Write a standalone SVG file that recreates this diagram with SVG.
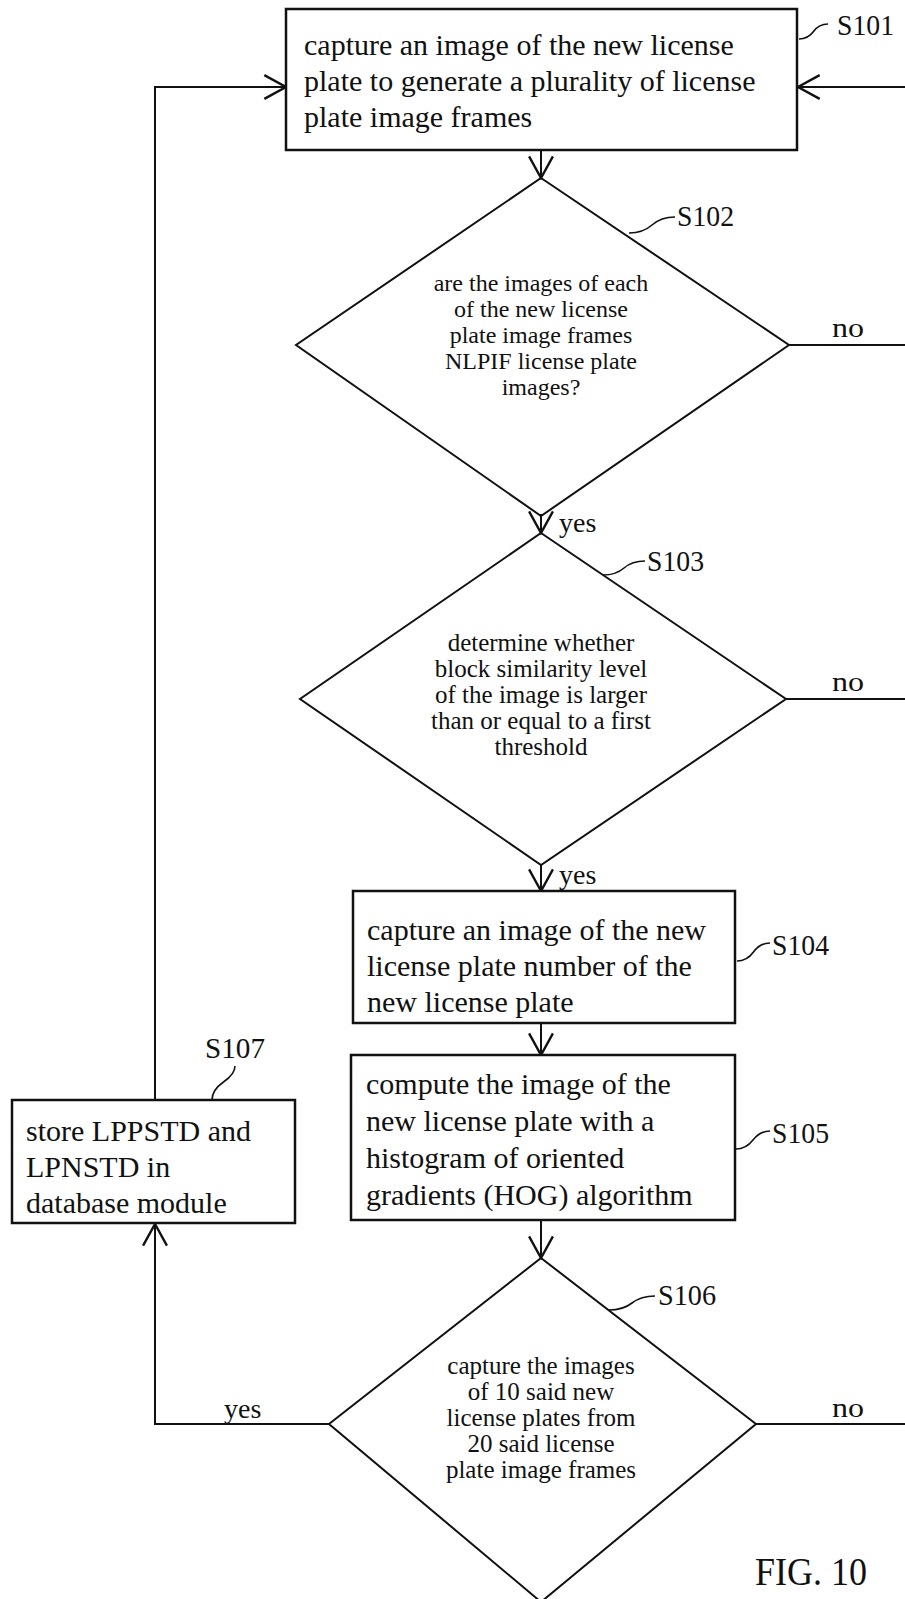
<svg xmlns="http://www.w3.org/2000/svg" width="905" height="1599" viewBox="0 0 905 1599">
<style>
.box{fill:#fff;stroke:#111;stroke-width:2.5}
.dia{fill:none;stroke:#111;stroke-width:2}
.ln{fill:none;stroke:#111;stroke-width:2}
.sq{fill:none;stroke:#111;stroke-width:1.6}
.t{font-family:"Liberation Serif","Times New Roman",serif;font-size:30px;fill:#111}
.d{font-family:"Liberation Serif","Times New Roman",serif;font-size:24px;fill:#111;text-anchor:middle}
.lb{font-family:"Liberation Serif","Times New Roman",serif;font-size:29px;fill:#111}
.yn{font-family:"Liberation Serif","Times New Roman",serif;font-size:28px;fill:#111}
</style>
<defs>
<marker id="ah" markerUnits="userSpaceOnUse" markerWidth="26" markerHeight="26" viewBox="0 0 22 24" refX="21" refY="12" orient="auto">
<path d="M1,1 L21,12 L1,23" fill="none" stroke="#111" stroke-width="2.2"/>
</marker>
</defs>
<rect width="905" height="1599" fill="#fff"/>

<g id="connectors">
<path class="ln" d="M541,150 L541,178" marker-end="url(#ah)"/>
<path class="ln" d="M541,514 L541,533" marker-end="url(#ah)"/>
<path class="ln" d="M541,865 L541,891" marker-end="url(#ah)"/>
<path class="ln" d="M541,1023 L541,1055" marker-end="url(#ah)"/>
<path class="ln" d="M541,1220 L541,1258" marker-end="url(#ah)"/>
<path class="ln" d="M789,345 L905,345"/>
<path class="ln" d="M786,699 L905,699"/>
<path class="ln" d="M756,1424 L905,1424"/>
<path class="ln" d="M329,1424 L155,1424 L155,1224" marker-end="url(#ah)"/>
<path class="ln" d="M155,1100 L155,87 L286,87" marker-end="url(#ah)"/>
<path class="ln" d="M905,87 L798,87" marker-end="url(#ah)"/>
<text class="yn" x="559" y="532">yes</text>
<text class="yn" x="559" y="884">yes</text>
<text class="yn" x="224" y="1418">yes</text>
<text class="yn" x="832" y="337" textLength="32" lengthAdjust="spacingAndGlyphs">no</text>
<text class="yn" x="832" y="691" textLength="32" lengthAdjust="spacingAndGlyphs">no</text>
<text class="yn" x="832" y="1417" textLength="32" lengthAdjust="spacingAndGlyphs">no</text>
</g>

<g id="S101">
<rect class="box" x="286" y="9" width="511" height="141"/>
<text class="t" x="304" y="55">capture an image of the new license</text>
<text class="t" x="304" y="91">plate to generate a plurality of license</text>
<text class="t" x="304" y="127">plate image frames</text>
<path class="sq" d="M799,39 Q808,39 813.5,31.5 T828,24"/>
<text class="lb" x="837" y="35" textLength="57" lengthAdjust="spacingAndGlyphs">S101</text>
</g>

<g id="S102">
<path class="dia" d="M541,178 L789,345 L541,516 L296,345 Z"/>
<text class="d" x="541" y="291">are the images of each</text>
<text class="d" x="541" y="317">of the new license</text>
<text class="d" x="541" y="343">plate image frames</text>
<text class="d" x="541" y="369">NLPIF license plate</text>
<text class="d" x="541" y="395">images?</text>
<path class="sq" d="M629,233 Q643,233 652,225 T675,217"/>
<text class="lb" x="677" y="226" textLength="57" lengthAdjust="spacingAndGlyphs">S102</text>
</g>

<g id="S103">
<path class="dia" d="M541,533 L786,699 L541,865 L300,699 Z"/>
<text class="d" x="541" y="651" style="font-size:25px">determine whether</text>
<text class="d" x="541" y="677" style="font-size:25px">block similarity level</text>
<text class="d" x="541" y="703" style="font-size:25px">of the image is larger</text>
<text class="d" x="541" y="729" style="font-size:25px">than or equal to a first</text>
<text class="d" x="541" y="755" style="font-size:25px">threshold</text>
<path class="sq" d="M603,575 Q616,575 624,568 T645,561"/>
<text class="lb" x="647" y="571" textLength="57" lengthAdjust="spacingAndGlyphs">S103</text>
</g>

<g id="S104">
<rect class="box" x="353" y="891" width="382" height="132"/>
<text class="t" x="367" y="940">capture an image of the new</text>
<text class="t" x="367" y="976">license plate number of the</text>
<text class="t" x="367" y="1012">new license plate</text>
<path class="sq" d="M737,961 Q747,961 753.5,952 T770,943"/>
<text class="lb" x="772" y="955" textLength="57" lengthAdjust="spacingAndGlyphs">S104</text>
</g>

<g id="S105">
<rect class="box" x="351" y="1055" width="384" height="165"/>
<text class="t" x="366" y="1094">compute the image of the</text>
<text class="t" x="366" y="1131">new license plate with a</text>
<text class="t" x="366" y="1168">histogram of oriented</text>
<text class="t" x="366" y="1205">gradients (HOG) algorithm</text>
<path class="sq" d="M736,1149 Q746,1149 753,1140 T770,1131"/>
<text class="lb" x="772" y="1143" textLength="57" lengthAdjust="spacingAndGlyphs">S105</text>
</g>

<g id="S106">
<path class="dia" d="M541,1258 L756,1424 L541,1602 L329,1424 Z"/>
<text class="d" x="541" y="1374" style="font-size:25px">capture the images</text>
<text class="d" x="541" y="1400" style="font-size:25px">of 10 said new</text>
<text class="d" x="541" y="1426" style="font-size:25px">license plates from</text>
<text class="d" x="541" y="1452" style="font-size:25px">20 said license</text>
<text class="d" x="541" y="1478" style="font-size:25px">plate image frames</text>
<path class="sq" d="M609,1310 Q623,1310 632,1303 T655,1296"/>
<text class="lb" x="658" y="1305" textLength="58" lengthAdjust="spacingAndGlyphs">S106</text>
</g>

<g id="S107">
<rect class="box" x="12" y="1100" width="283" height="123"/>
<text class="t" x="26" y="1141">store LPPSTD and</text>
<text class="t" x="26" y="1177">LPNSTD in</text>
<text class="t" x="26" y="1213">database module</text>
<path class="sq" d="M212,1100 Q212,1090 223.5,1082 T235,1066"/>
<text class="lb" x="205" y="1058" textLength="60" lengthAdjust="spacingAndGlyphs">S107</text>
</g>

<text class="lb" x="755" y="1585" style="font-size:40px" textLength="112" lengthAdjust="spacingAndGlyphs">FIG. 10</text>
</svg>
